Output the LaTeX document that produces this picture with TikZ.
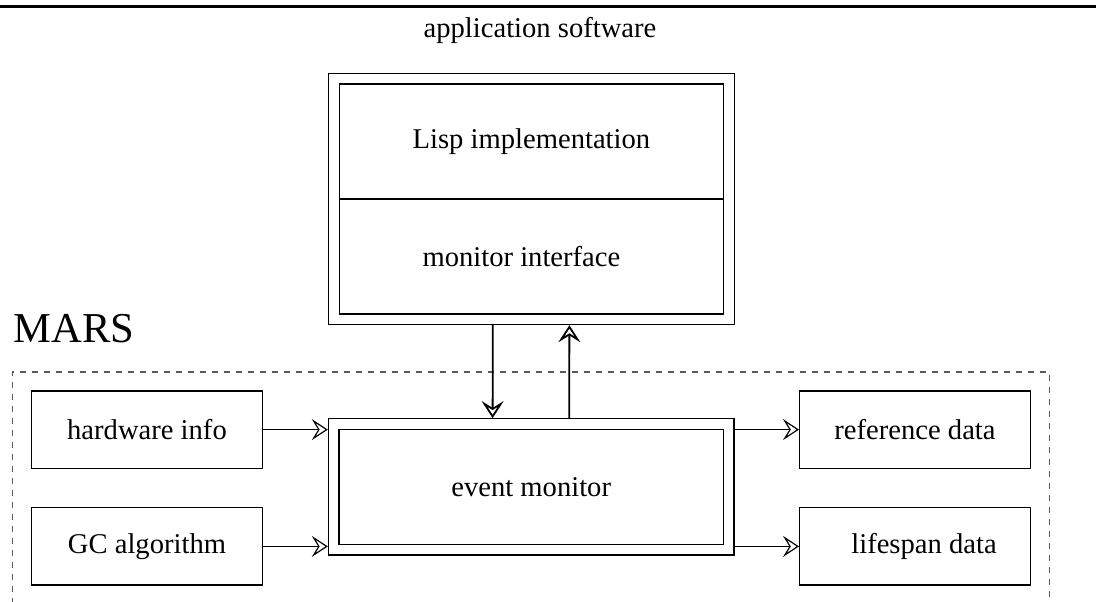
\documentclass[tikz,border=0pt]{standalone}
\usepackage{fontspec}
\setmainfont{Liberation Serif}
\usepackage{tikz}
\usetikzlibrary{positioning, arrows.meta, fit}

\begin{document}
\begin{tikzpicture}[
    x=0.5pt, y=-0.5pt,
    node distance=19.2pt,
    teil/.style={
        rectangle, draw, line width=0.6pt,
        minimum width=192.3pt, minimum height=57.5pt,
        font=\fontsize{14.3}{17}\selectfont, inner sep=0pt
    },
    rahmen/.style={
        rectangle, draw, line width=0.6pt, inner sep=5pt
    },
    kasten/.style={
        rectangle, draw, line width=0.6pt,
        minimum width=115.4pt, minimum height=38.6pt,
        font=\fontsize{14.3}{17}\selectfont, inner sep=0pt
    },
    pfeil/.style={-{Stealth[open, length=8pt, width=10.5pt, inset=3.2pt]}, line width=0.6pt},
    vpfeil/.style={-{Stealth[open, length=8.5pt, width=11pt, inset=3.4pt]}, line width=0.9pt}
]
\useasboundingbox (0,0) rectangle (1096,601);

% top rule and heading
\draw[line width=1.5pt] (0,6.3) -- (1096,6.3);
\node[anchor=base, inner sep=0pt, font=\fontsize{14.3}{17}\selectfont] (app) at (540,37) {application software};

% host side
\node[teil] (lisp) at (531.4,141.5) {Lisp implementation};
\node[teil, below=-0.6pt of lisp] (iface) {\hspace*{-10pt}monitor interface};
\node[rahmen, fit=(lisp)(iface)] (host) {};

% MARS
\node[anchor=base west, inner sep=0pt, font=\fontsize{21.3}{25}\selectfont] (mars) at (13,342) {MARS};
\draw[black!65, line width=0.6pt, dash pattern=on 3pt off 3pt]
    (12.3,640) -- (12.3,372) -- (1049.3,372) -- (1049.3,640);

\node[teil, minimum width=192.2pt] (event) at (531.2,486.8) {event monitor};
\node[rahmen, fit=(event)] (evframe) {};

\node[kasten] (hw) at (147,429.6) {hardware info};
\node[kasten, below=of hw] (gc) {GC algorithm};
\node[kasten] (ref) at (915,429.6) {reference data};
\node[kasten, below=of ref] (life) {\hspace*{9pt}lifespan data};

% connectors
\draw[pfeil] (hw) -- (hw -| evframe.west);
\draw[pfeil] (gc) -- (gc -| evframe.west);
\draw[pfeil] (evframe.east |- ref) -- (ref);
\draw[pfeil] (evframe.east |- life) -- (life);
\draw[vpfeil] ([xshift=-19.3pt]host.south) -- ([xshift=-19.3pt]evframe.north);
\draw[vpfeil] ([xshift=19pt]evframe.north) -- ([xshift=19pt]host.south);
\end{tikzpicture}
\end{document}
